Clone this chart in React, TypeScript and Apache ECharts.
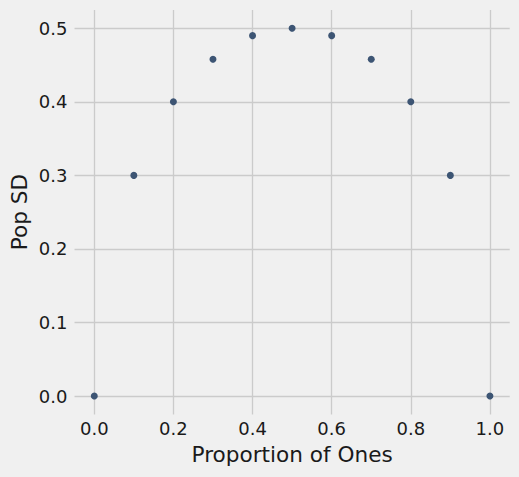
import { useEffect, useRef } from 'react'
import * as echarts from 'echarts'

const proportions = [0.0, 0.1, 0.2, 0.3, 0.4, 0.5, 0.6, 0.7, 0.8, 0.9, 1.0]
const popSD = [0.0, 0.3, 0.4, 0.458, 0.49, 0.5, 0.49, 0.458, 0.4, 0.3, 0.0]

const xLabel = 'Proportion of Ones'
const yLabel = 'Pop SD'

const FONT = 'DejaVu Sans, sans-serif'
const BG = '#f0f0f0'
const GRID_COLOR = '#cbcbcb'
const MARKER = '#3d5574'

// plot box (pixels) and data limits, matplotlib style 5% margins
const boxLeft = 74.5
const boxRight = 509.7
const boxTop = 9.9
const boxBottom = 414.4
const xMin = -0.05
const xMax = 1.05
const yMin = -0.025
const yMax = 0.525

const W = 519
const H = 477

export default function App() {
  const chartRef = useRef<HTMLDivElement>(null)

  useEffect(() => {
    document.body.style.margin = '0'
    document.body.style.background = BG
    if (!chartRef.current) return
    const chart = echarts.init(chartRef.current, null, { renderer: 'svg' })

    const pxPerX = (boxRight - boxLeft) / (xMax - xMin)
    const pxPerY = (boxBottom - boxTop) / (yMax - yMin)
    // inner box where 0..1 and 0..0.5 land
    const x0 = boxLeft + (0 - xMin) * pxPerX
    const x1 = boxLeft + (1 - xMin) * pxPerX
    const y0 = boxBottom - (0 - yMin) * pxPerY
    const y1 = boxBottom - (0.5 - yMin) * pxPerY

    const tickLabel = {
      fontFamily: FONT,
      fontSize: 18,
      color: '#1a1a1a',
      formatter: (v: number) => v.toFixed(1),
    }

    const option: echarts.EChartsOption = {
      animation: false,
      backgroundColor: BG,
      grid: [
        // grid 0: full width, y from 0 to 0.5 -> horizontal grid lines + data
        {
          left: boxLeft,
          width: boxRight - boxLeft,
          top: y1,
          height: y0 - y1,
          outerBoundsMode: 'none',
        } as any,
        // grid 1: full height, x from 0 to 1 -> vertical grid lines
        {
          left: x0,
          width: x1 - x0,
          top: boxTop,
          height: boxBottom - boxTop,
          outerBoundsMode: 'none',
        } as any,
      ],
      xAxis: [
        {
          gridIndex: 0,
          type: 'value',
          min: xMin,
          max: xMax,
          show: false,
        },
        {
          gridIndex: 1,
          type: 'value',
          min: 0,
          max: 1,
          interval: 0.2,
          axisLine: { show: false },
          axisTick: { show: false },
          axisLabel: { ...tickLabel, margin: 5 },
          splitLine: { show: true, lineStyle: { color: GRID_COLOR, width: 1.3 } },
          name: xLabel,
          nameLocation: 'middle',
          nameGap: 29,
          nameMoveOverlap: false,
          nameTextStyle: { fontFamily: FONT, fontSize: 21.6, color: '#1a1a1a' },
        } as any,
      ],
      yAxis: [
        {
          gridIndex: 0,
          type: 'value',
          min: 0,
          max: 0.5,
          interval: 0.1,
          axisLine: { show: false },
          axisTick: { show: false },
          axisLabel: { ...tickLabel, margin: 7 },
          splitLine: { show: true, lineStyle: { color: GRID_COLOR, width: 1.3 } },
          name: yLabel,
          nameLocation: 'middle',
          nameGap: 44,
          nameRotate: 90,
          nameMoveOverlap: false,
          nameTextStyle: { fontFamily: FONT, fontSize: 21.6, color: '#1a1a1a' },
        } as any,
        {
          gridIndex: 1,
          type: 'value',
          min: 0,
          max: 1,
          show: false,
        },
      ],
      series: [
        {
          type: 'scatter',
          xAxisIndex: 0,
          yAxisIndex: 0,
          clip: false,
          symbol: 'circle',
          symbolSize: 7,
          itemStyle: { color: MARKER, opacity: 1 },
          data: proportions.map((p, i) => [p, popSD[i]]),
        },
      ],
    }

    chart.setOption(option)
    return () => {
      chart.dispose()
    }
  }, [])

  return <div ref={chartRef} style={{ width: W, height: H }} />
}
